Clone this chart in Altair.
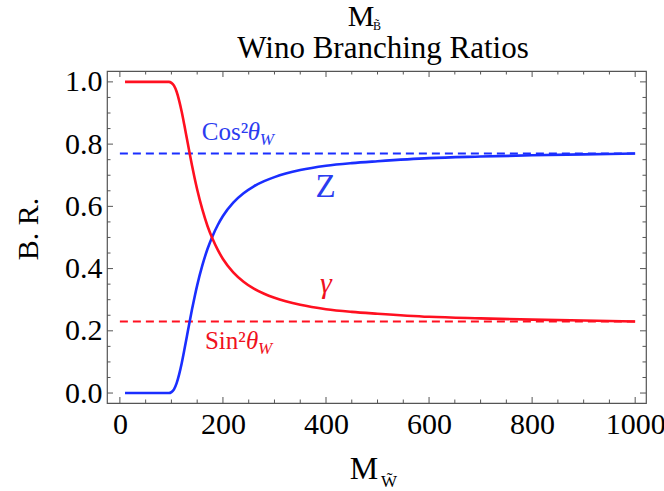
import altair as alt
import pandas as pd

# ---- data ----
mass = [10, 50, 91, 95, 100, 105, 110, 115, 120, 125, 130, 135, 140, 145, 150,
        160, 170, 180, 190, 200, 220, 240, 260, 280, 300, 350, 400, 450, 500,
        600, 700, 800, 900, 1000]
br_z = [0.0, 0.0, 0.0, 0.0, 0.003, 0.012, 0.031, 0.060, 0.096, 0.138, 0.182,
        0.226, 0.269, 0.309, 0.346, 0.410, 0.463, 0.505, 0.540, 0.569, 0.612,
        0.642, 0.6645, 0.681, 0.694, 0.7165, 0.7305, 0.739, 0.745, 0.755,
        0.760, 0.764, 0.767, 0.770]
br_gamma = [1.0, 1.0, 1.0, 1.0, 0.997, 0.988, 0.969, 0.940, 0.904, 0.862,
            0.818, 0.774, 0.731, 0.691, 0.654, 0.590, 0.537, 0.495, 0.460,
            0.431, 0.388, 0.358, 0.3355, 0.319, 0.306, 0.2835, 0.2695, 0.261,
            0.255, 0.245, 0.240, 0.236, 0.233, 0.230]
cos2_w = 0.77
sin2_w = 0.23
ref_x = [0, 1000]

x_ticks = [0, 200, 400, 600, 800, 1000]
x_minor = [50, 100, 150, 250, 300, 350, 450, 500, 550, 650, 700, 750, 850, 900, 950]
y_ticks = [0.0, 0.2, 0.4, 0.6, 0.8, 1.0]
y_minor = [0.05, 0.1, 0.15, 0.25, 0.3, 0.35, 0.45, 0.5, 0.55, 0.65, 0.7,
           0.75, 0.85, 0.9, 0.95]

W, H = 539, 332
FONT = "Liberation Serif"
BLUE = "#1a2eff"
RED = "#ff1020"
BLUE_T = "#2b3cf0"
RED_T = "#f01020"
FRAME = "#555555"

xs = alt.Scale(domain=[-25, 1021], nice=False, zero=False)
ys = alt.Scale(domain=[-0.032, 1.035], nice=False, zero=False)

curves = pd.DataFrame({
    "M": mass + mass,
    "BR": br_z + br_gamma,
    "s": ["Z"] * len(mass) + ["gamma"] * len(mass),
})

xaxis = alt.Axis(values=x_ticks, format="d", ticks=False, tickSize=0, domain=False,
                 grid=False, labelFont=FONT, labelFontSize=30, labelColor="black",
                 labelPadding=6, title=None)
yaxis = alt.Axis(values=y_ticks, format=".1f", ticks=False, tickSize=0, domain=False,
                 grid=False, labelFont=FONT, labelFontSize=30, labelColor="black",
                 labelPadding=5, title=None)

lines = alt.Chart(curves).mark_line(strokeWidth=2.6, interpolate="monotone").encode(
    x=alt.X("M:Q", scale=xs, axis=xaxis),
    y=alt.Y("BR:Q", scale=ys, axis=yaxis),
    color=alt.Color("s:N", scale=alt.Scale(domain=["Z", "gamma"], range=[BLUE, RED]), legend=None),
    detail="s:N",
)

refs = pd.DataFrame({
    "M": ref_x + ref_x,
    "v": [cos2_w, cos2_w, sin2_w, sin2_w],
    "s": ["Z", "Z", "gamma", "gamma"],
})
dashed = alt.Chart(refs).mark_line(strokeWidth=2, strokeDash=[8, 5]).encode(
    x=alt.X("M:Q", scale=xs),
    y=alt.Y("v:Q", scale=ys),
    color=alt.Color("s:N", scale=alt.Scale(domain=["Z", "gamma"], range=[BLUE, RED]), legend=None),
    detail="s:N",
)

# ---- frame ticks (inward) ----
def vticks(vals, y0, y1):
    return alt.Chart(pd.DataFrame({"v": vals})).mark_rule(color=FRAME, strokeWidth=1).encode(
        x=alt.X("v:Q", scale=xs), y=alt.value(y0), y2=alt.value(y1))

def hticks(vals, x0, x1):
    return alt.Chart(pd.DataFrame({"v": vals})).mark_rule(color=FRAME, strokeWidth=1).encode(
        y=alt.Y("v:Q", scale=ys), x=alt.value(x0), x2=alt.value(x1))

tick_layers = [
    vticks(x_ticks, H, H - 6), vticks(x_minor, H, H - 3.5),
    vticks(x_ticks, 0, 6), vticks(x_minor, 0, 3.5),
    hticks(y_ticks, 0, 6), hticks(y_minor, 0, 3.5),
    hticks(y_ticks, W, W - 6), hticks(y_minor, W, W - 3.5),
]

# ---- in-plot annotations (data coordinates) ----
def dtext(x, y, txt, color, size, style="normal", dx=0, dy=0, align="left", baseline="alphabetic"):
    return alt.Chart(pd.DataFrame({"x": [x], "y": [y]})).mark_text(
        font=FONT, fontSize=size, fontStyle=style, color=color, align=align,
        baseline=baseline, dx=dx, dy=dy).encode(
        x=alt.X("x:Q", scale=xs), y=alt.Y("y:Q", scale=ys), text=alt.value(txt))

ann = [
    dtext(159, 0.813, "Cos²", BLUE_T, 25),
    dtext(159, 0.813, "θ", BLUE_T, 25, style="italic", dx=46),
    dtext(159, 0.813, "W", BLUE_T, 17, style="italic", dx=58, dy=5),
    dtext(165, 0.143, "Sin²", RED_T, 25),
    dtext(165, 0.143, "θ", RED_T, 25, style="italic", dx=41),
    dtext(165, 0.143, "W", RED_T, 17, style="italic", dx=53, dy=5),
    dtext(399, 0.662, "Z", BLUE_T, 33, align="center", baseline="middle"),
    dtext(400, 0.350, "γ", RED_T, 30, style="italic", align="center", baseline="middle"),
]

# ---- titles (pixel positions relative to the plot area) ----
def ptext(x, y, txt, size, angle=0, align="center", baseline="alphabetic"):
    return alt.Chart(pd.DataFrame({"a": [0]})).mark_text(
        font=FONT, fontSize=size, color="black", align=align, baseline=baseline,
        angle=angle).encode(x=alt.value(x), y=alt.value(y), text=alt.value(txt))

titles = [
    ptext(254, -45, "M", 30),
    ptext(266, -41, "B\u0303", 12, align="left"),
    ptext(276, -13, "Wino Branching Ratios", 31),
    ptext(257, 408, "M", 32),
    ptext(274, 416, "W\u0303", 17, align="left"),
    ptext(-78, 158, "B. R.", 30, angle=270, baseline="middle"),
]

chart = alt.layer(dashed, lines, *tick_layers, *ann, *titles).properties(
    width=W, height=H,
    autosize=alt.AutoSizeParams(type="none"),
    padding={"left": 107, "top": 71, "right": 18, "bottom": 88},
    background="white",
).configure_view(stroke=FRAME, strokeWidth=1.2)

chart.save("out.html", embed_options={"renderer": "svg", "actions": False})
